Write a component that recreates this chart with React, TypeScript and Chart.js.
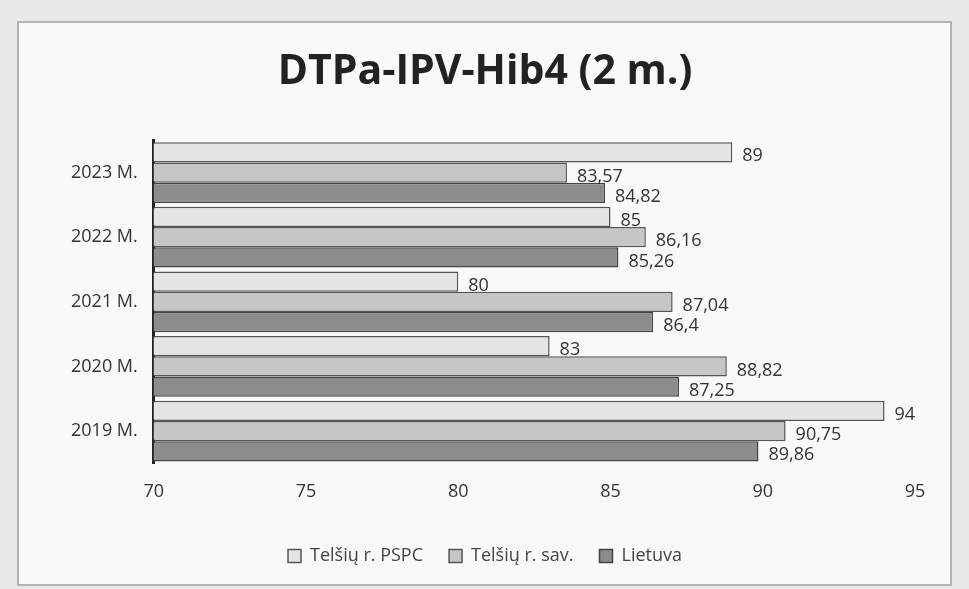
import React, { useEffect, useRef } from "react";
import { Chart, registerables } from "chart.js";

Chart.register(...registerables);

const categories = ["2023 M.", "2022 M.", "2021 M.", "2020 M.", "2019 M."];
const pspc = [89, 85, 80, 83, 94];
const sav = [83.57, 86.16, 87.04, 88.82, 90.75];
const lietuva = [84.82, 85.26, 86.4, 87.25, 89.86];
const seriesNames = ["Telšių r. PSPC", "Telšių r. sav.", "Lietuva"];
const xTicks = [70, 75, 80, 85, 90, 95];

const fmt = (v: number) => String(v).replace(".", ",");

const bgPlugin = {
  id: "pageBg",
  beforeDraw(chart: any) {
    const { ctx, width, height } = chart;
    ctx.save();
    ctx.fillStyle = "#e9e9e9";
    ctx.fillRect(0, 0, width, height);
    ctx.fillStyle = "#f9f9f9";
    ctx.fillRect(18, 22, width - 36, height - 26);
    ctx.strokeStyle = "#a0a0a0";
    ctx.lineWidth = 1.5;
    ctx.strokeRect(18, 22, width - 36, height - 26);
    ctx.restore();
  },
};

const labelPlugin = {
  id: "valueLabels",
  afterDatasetsDraw(chart: any) {
    const { ctx } = chart;
    ctx.save();
    ctx.font = "18px 'Open Sans', sans-serif";
    ctx.fillStyle = "#333";
    ctx.textAlign = "left";
    ctx.textBaseline = "middle";
    chart.data.datasets.forEach((ds: any, i: number) => {
      const meta = chart.getDatasetMeta(i);
      meta.data.forEach((bar: any, j: number) => {
        ctx.fillText(fmt(ds.data[j]), bar.x + 10, bar.y + 4);
      });
    });
    ctx.restore();
  },
};

export default function App() {
  const ref = useRef<HTMLCanvasElement>(null);
  useEffect(() => {
    if (!ref.current) return;
    const chart = new Chart(ref.current, {
      type: "bar",
      data: {
        labels: categories,
        datasets: [
          { label: seriesNames[0], data: pspc, backgroundColor: "#e4e4e4", borderColor: "#555", borderWidth: 1.5 },
          { label: seriesNames[1], data: sav, backgroundColor: "#c6c6c6", borderColor: "#555", borderWidth: 1.5 },
          { label: seriesNames[2], data: lietuva, backgroundColor: "#8c8c8c", borderColor: "#444", borderWidth: 1.5 },
        ],
      },
      options: {
        indexAxis: "y",
        animation: false,
        responsive: false,
        devicePixelRatio: 1,
        categoryPercentage: 0.94,
        barPercentage: 1.0,
        layout: { padding: { left: 55, right: 54, top: 0, bottom: 14 } },
        scales: {
          x: {
            min: 70,
            max: 95,
            afterBuildTicks: (axis: any) => {
              axis.ticks = xTicks.map((v) => ({ value: v }));
            },
            grid: { display: false, drawTicks: false },
            border: { display: false },
            ticks: { font: { size: 18, family: "'Open Sans', sans-serif" }, color: "#333", padding: 18 },
          },
          y: {
            grid: { display: false, drawTicks: false },
            border: { display: true, color: "#222", width: 3 },
            ticks: { font: { size: 18, family: "'Open Sans', sans-serif" }, color: "#333", padding: 16 },
          },
        },
        plugins: {
          title: {
            display: true,
            text: "DTPa-IPV-Hib4 (2 m.)",
            font: { size: 41, weight: "bold", family: "'Open Sans', sans-serif" },
            color: "#222",
            padding: { top: 48, bottom: 43 },
          },
          legend: {
            position: "bottom",
            labels: {
              boxWidth: 13,
              boxHeight: 13,
              font: { size: 18, family: "'Open Sans', sans-serif" },
              color: "#444",
              padding: 26,
            },
          },
          tooltip: { enabled: false },
        },
      },
      plugins: [bgPlugin, labelPlugin],
    });
    return () => chart.destroy();
  }, []);
  return (
    <div style={{ position: "fixed", left: 0, top: 0, width: 969, height: 589 }}>
      <canvas ref={ref} width={969} height={589} style={{ width: 969, height: 589 }} />
    </div>
  );
}
